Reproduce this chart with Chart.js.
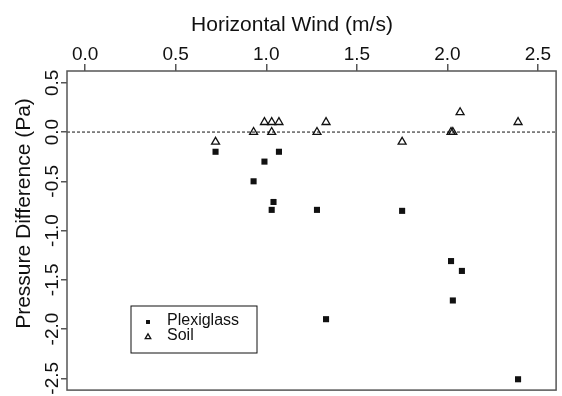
<!DOCTYPE html>
<html>
<head>
<meta charset="utf-8">
<script src="https://cdn.jsdelivr.net/npm/chart.js@4.4.0/dist/chart.umd.min.js"></script>
<style>
  html, body { margin: 0; padding: 0; background: #fff; }
  #wrap { width: 562px; height: 396px; }
</style>
</head>
<body>
<div id="wrap"><canvas id="chart" width="562" height="396"></canvas></div>
<script>
var plexiWind     = [0.72, 0.93, 0.99, 1.03, 1.04, 1.07, 1.28, 1.33, 1.75, 2.02, 2.03, 2.08, 2.39];
var plexiPressure = [-0.20, -0.50, -0.30, -0.79, -0.71, -0.20, -0.79, -1.90, -0.80, -1.31, -1.71, -1.41, -2.51];
var soilWind      = [0.72, 0.93, 0.99, 1.03, 1.03, 1.07, 1.28, 1.33, 1.75, 2.02, 2.03, 2.07, 2.39];
var soilPressure  = [-0.10, 0.00, 0.10, 0.10, 0.00, 0.10, 0.00, 0.10, -0.10, 0.00, 0.00, 0.20, 0.10];
var xTicks = [0, 0.5, 1, 1.5, 2, 2.5];
var yTicks = [-2.5, -2, -1.5, -1, -0.5, 0, 0.5];
var seriesNames = ['Plexiglass', 'Soil'];
var xTitle = 'Horizontal Wind (m/s)';
var yTitle = 'Pressure Difference (Pa)';

var FONT = 'Arial, "Liberation Sans", Helvetica, sans-serif';
var INK = '#111';
var FRAME = '#555';

function toPoints(xs, ys) {
  return xs.map(function(x, i) { return { x: x, y: ys[i] }; });
}

function fixed1(v) { return Number(v).toFixed(1); }

// zero line, frame box, axis titles and the in-plot legend
var extras = {
  id: 'extras',
  beforeDatasetsDraw: function(chart) {
    var ctx = chart.ctx, a = chart.chartArea;
    var y0 = chart.scales.y.getPixelForValue(0);
    ctx.save();
    ctx.strokeStyle = INK;
    ctx.lineWidth = 1;
    ctx.setLineDash([3, 2]);
    ctx.beginPath();
    ctx.moveTo(a.left, y0);
    ctx.lineTo(a.right, y0);
    ctx.stroke();
    ctx.restore();
  },
  afterDraw: function(chart) {
    var ctx = chart.ctx, a = chart.chartArea;
    ctx.save();
    ctx.strokeStyle = FRAME;
    ctx.lineWidth = 1.5;
    ctx.strokeRect(a.left, a.top, a.right - a.left, a.bottom - a.top);

    // axis titles (R centres them a bit off the plot box)
    ctx.fillStyle = INK;
    ctx.font = '21px ' + FONT;
    ctx.textAlign = 'center';
    ctx.textBaseline = 'alphabetic';
    ctx.fillText(xTitle, 292, 30.5);
    ctx.save();
    ctx.translate(29.5, 213.5);
    ctx.rotate(-Math.PI / 2);
    ctx.fillText(yTitle, 0, 0);
    ctx.restore();

    var bx = a.left + 64, by = 306, bw = 126, bh = 47;
    ctx.strokeStyle = INK;
    ctx.lineWidth = 1;
    ctx.strokeRect(bx, by, bw, bh);

    ctx.font = '16px ' + FONT;
    ctx.textBaseline = 'middle';
    ctx.textAlign = 'left';
    chart.data.datasets.forEach(function(ds, i) {
      var cy = by + 15 + i * 15;
      ctx.fillStyle = ds.backgroundColor;
      ctx.strokeStyle = ds.borderColor;
      ctx.lineWidth = ds.borderWidth || 1;
      Chart.helpers.drawPoint(ctx, {
        pointStyle: ds.pointStyle,
        radius: i === 0 ? 2.8 : 3.2,
        borderWidth: ds.borderWidth,
        rotation: 0
      }, bx + 17, cy + 1);
      ctx.fillStyle = INK;
      ctx.fillText(ds.label, bx + 36, cy);
    });
    ctx.restore();
  }
};

new Chart(document.getElementById('chart'), {
  type: 'scatter',
  data: {
    datasets: [
      {
        label: seriesNames[0],
        data: toPoints(plexiWind, plexiPressure),
        pointStyle: 'rect',
        pointRadius: 4.3,
        backgroundColor: INK,
        borderColor: INK,
        borderWidth: 0
      },
      {
        label: seriesNames[1],
        data: toPoints(soilWind, soilPressure),
        pointStyle: 'triangle',
        pointRadius: 4.6,
        backgroundColor: 'rgba(255,255,255,0)',
        borderColor: INK,
        borderWidth: 1.3
      }
    ]
  },
  options: {
    responsive: false,
    animation: false,
    devicePixelRatio: 1,
    layout: { padding: { top: 0, left: 0, right: 1, bottom: 3 } },
    plugins: {
      legend: { display: false },
      tooltip: { enabled: false }
    },
    scales: {
      x: {
        type: 'linear',
        position: 'top',
        min: -0.1,
        max: 2.6,
        afterBuildTicks: function(scale) {
          scale.ticks = xTicks.map(function(v) { return { value: v }; });
        },
        afterFit: function(scale) { scale.height = 71; },
        ticks: {
          padding: -2,
          color: INK,
          font: { family: FONT, size: 19 },
          callback: fixed1
        },
        grid: { drawOnChartArea: false, tickLength: 7, color: FRAME, lineWidth: 1.5 },
        border: { display: false },
        title: { display: false }
      },
      y: {
        type: 'linear',
        min: -2.62,
        max: 0.62,
        afterBuildTicks: function(scale) {
          scale.ticks = yTicks.map(function(v) { return { value: v }; });
        },
        afterFit: function(scale) { scale.width = 67; },
        ticks: {
          minRotation: 90,
          maxRotation: 90,
          crossAlign: 'center',
          padding: -8,
          color: INK,
          font: { family: FONT, size: 19 },
          callback: fixed1
        },
        grid: { drawOnChartArea: false, tickLength: 6, color: FRAME, lineWidth: 1.5 },
        border: { display: false },
        title: { display: false }
      }
    }
  },
  plugins: [extras]
});
</script>
</body>
</html>
